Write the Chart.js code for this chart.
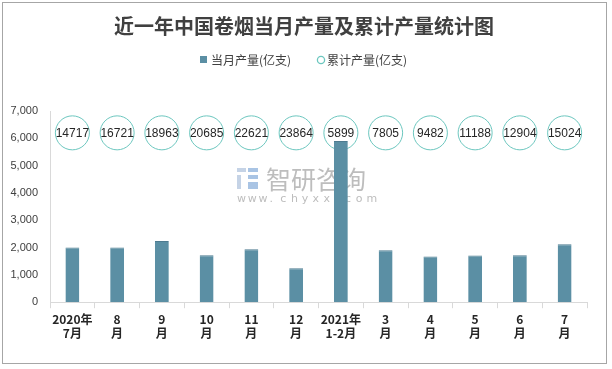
<!DOCTYPE html>
<html>
<head>
<meta charset="utf-8">
<script src="https://cdn.jsdelivr.net/npm/chart.js@4"></script>
<style>
  html, body { margin: 0; padding: 0; background: #fff; }
  #wrap { width: 612px; height: 369px; position: relative; }
</style>
</head>
<body>
<div id="wrap"><canvas id="chart" width="612" height="369"></canvas></div>
<script>
// chart data
const months = [
    ['2020年', '7月'], ['8', '月'], ['9', '月'], ['10', '月'], ['11', '月'], ['12', '月'],
    ['2021年', '1-2月'], ['3', '月'], ['4', '月'], ['5', '月'], ['6', '月'], ['7', '月']
];
const monthlyOutput = [2000, 2004, 2242, 1722, 1936, 1243, 5899, 1906, 1677, 1706, 1716, 2120];
const cumulativeOutput = [14717, 16721, 18963, 20685, 22621, 23864, 5899, 7805, 9482, 11188, 12904, 15024];
const cumulativeMarkerLevel = 6200; // circles sit in a row near the top
const yTicks = [0, 1000, 2000, 3000, 4000, 5000, 6000, 7000];
const chartTitle = '近一年中国卷烟当月产量及累计产量统计图';

const CJK = '"Noto Sans CJK SC", "Microsoft YaHei", sans-serif';
const LATIN = '"Liberation Sans", Arial, sans-serif';
const BAR_COLOR = '#5b8fa4';
const RING_COLOR = '#6cc7bf';

// frame, title, legend and watermark
const decorPlugin = {
    id: 'decor',
    beforeDraw(chart) {
        const ctx = chart.ctx;
        ctx.save();
        ctx.fillStyle = '#fff';
        ctx.fillRect(0, 0, chart.width, chart.height);
        ctx.strokeStyle = '#a6a6a6';
        ctx.lineWidth = 1;
        ctx.strokeRect(2.5, 2.5, 604, 361);

        // title
        ctx.fillStyle = '#404040';
        ctx.font = 'bold 20px ' + CJK;
        ctx.textAlign = 'center';
        ctx.textBaseline = 'middle';
        ctx.fillText(chartTitle, 304, 26);

        // legend
        const ds = chart.data.datasets;
        ctx.font = '12px ' + CJK;
        ctx.textAlign = 'left';
        ctx.fillStyle = BAR_COLOR;
        ctx.fillRect(200, 56, 7, 7);
        ctx.fillStyle = '#404040';
        ctx.fillText(ds[0].label, 211, 60);
        ctx.beginPath();
        ctx.arc(321, 60, 3.6, 0, Math.PI * 2);
        ctx.strokeStyle = RING_COLOR;
        ctx.lineWidth = 1.3;
        ctx.stroke();
        ctx.fillText(ds[1].label, 327, 60);
        ctx.restore();
    },
    beforeDatasetsDraw(chart) {
        const ctx = chart.ctx;
        ctx.save();
        // little logo
        ctx.fillStyle = '#c5d3e6';
        ctx.fillRect(237, 168, 9, 4);
        ctx.fillRect(237, 175, 4, 14);
        ctx.fillStyle = '#a9c4e4';
        ctx.fillRect(248, 168, 10, 4);
        ctx.fillRect(248, 175, 10, 4);
        ctx.fillRect(248, 182, 10, 7);
        ctx.fillStyle = '#bdbdbd';
        ctx.font = '25px ' + CJK;
        ctx.textBaseline = 'middle';
        ctx.textAlign = 'left';
        ctx.fillText('智研咨询', 266, 179);
        ctx.font = '11px "DejaVu Sans", sans-serif';
        const url = 'www.chyxx.com';
        let x = 237;
        for (const ch of url) {
            ctx.fillText(ch, x, 199);
            x += 10.8;
        }
        ctx.restore();
    },
    afterDatasetsDraw(chart) {
        const ctx = chart.ctx;
        const meta = chart.getDatasetMeta(1);
        ctx.save();
        ctx.fillStyle = '#262626';
        ctx.font = '12px ' + LATIN;
        ctx.textAlign = 'center';
        ctx.textBaseline = 'middle';
        meta.data.forEach((pt, i) => {
            ctx.fillText(String(cumulativeOutput[i]), pt.x, pt.y + 1);
        });
        ctx.restore();
    }
};

new Chart(document.getElementById('chart'), {
    data: {
        labels: months,
        datasets: [
            {
                type: 'bar',
                label: '当月产量(亿支)',
                data: monthlyOutput,
                backgroundColor: BAR_COLOR,
                borderColor: '#4d7b90',
                borderWidth: { top: 1, left: 0, right: 0, bottom: 0 },
                barPercentage: 0.31,
                categoryPercentage: 1,
                order: 1
            },
            {
                type: 'line',
                label: '累计产量(亿支)',
                data: cumulativeOutput.map(() => cumulativeMarkerLevel),
                showLine: false,
                pointRadius: 17,
                pointHoverRadius: 17,
                pointBorderWidth: 1,
                borderColor: RING_COLOR,
                pointBorderColor: RING_COLOR,
                backgroundColor: 'rgba(255,255,255,0)',
                pointBackgroundColor: 'rgba(255,255,255,0)',
                pointStyle: 'circle',
                order: 2
            }
        ]
    },
    options: {
        responsive: false,
        animation: false,
        devicePixelRatio: 1,
        layout: { padding: { left: 6, right: 25, top: 111, bottom: 24 } },
        plugins: {
            title: { display: false },
            legend: { display: false },
            tooltip: { enabled: false }
        },
        scales: {
            x: {
                grid: {
                    offset: true,
                    drawOnChartArea: false,
                    drawTicks: true,
                    tickLength: 6,
                    color: '#d9d9d9'
                },
                border: { display: true, color: '#d9d9d9' },
                ticks: {
                    color: '#262626',
                    font: { family: CJK, size: 12, weight: 'bold' },
                    maxRotation: 0,
                    autoSkip: false,
                    padding: 4
                }
            },
            y: {
                min: yTicks[0],
                max: yTicks[yTicks.length - 1],
                afterBuildTicks(axis) {
                    axis.ticks = yTicks.map(v => ({ value: v }));
                },
                afterFit(axis) {
                    axis.width = 44;
                },
                grid: { display: false, drawTicks: false },
                border: { display: true, color: '#d9d9d9' },
                ticks: {
                    color: '#404040',
                    font: { family: LATIN, size: 11 },
                    padding: 12,
                    callback: v => v.toLocaleString('en-US')
                }
            }
        }
    },
    plugins: [decorPlugin]
});
</script>
</body>
</html>
